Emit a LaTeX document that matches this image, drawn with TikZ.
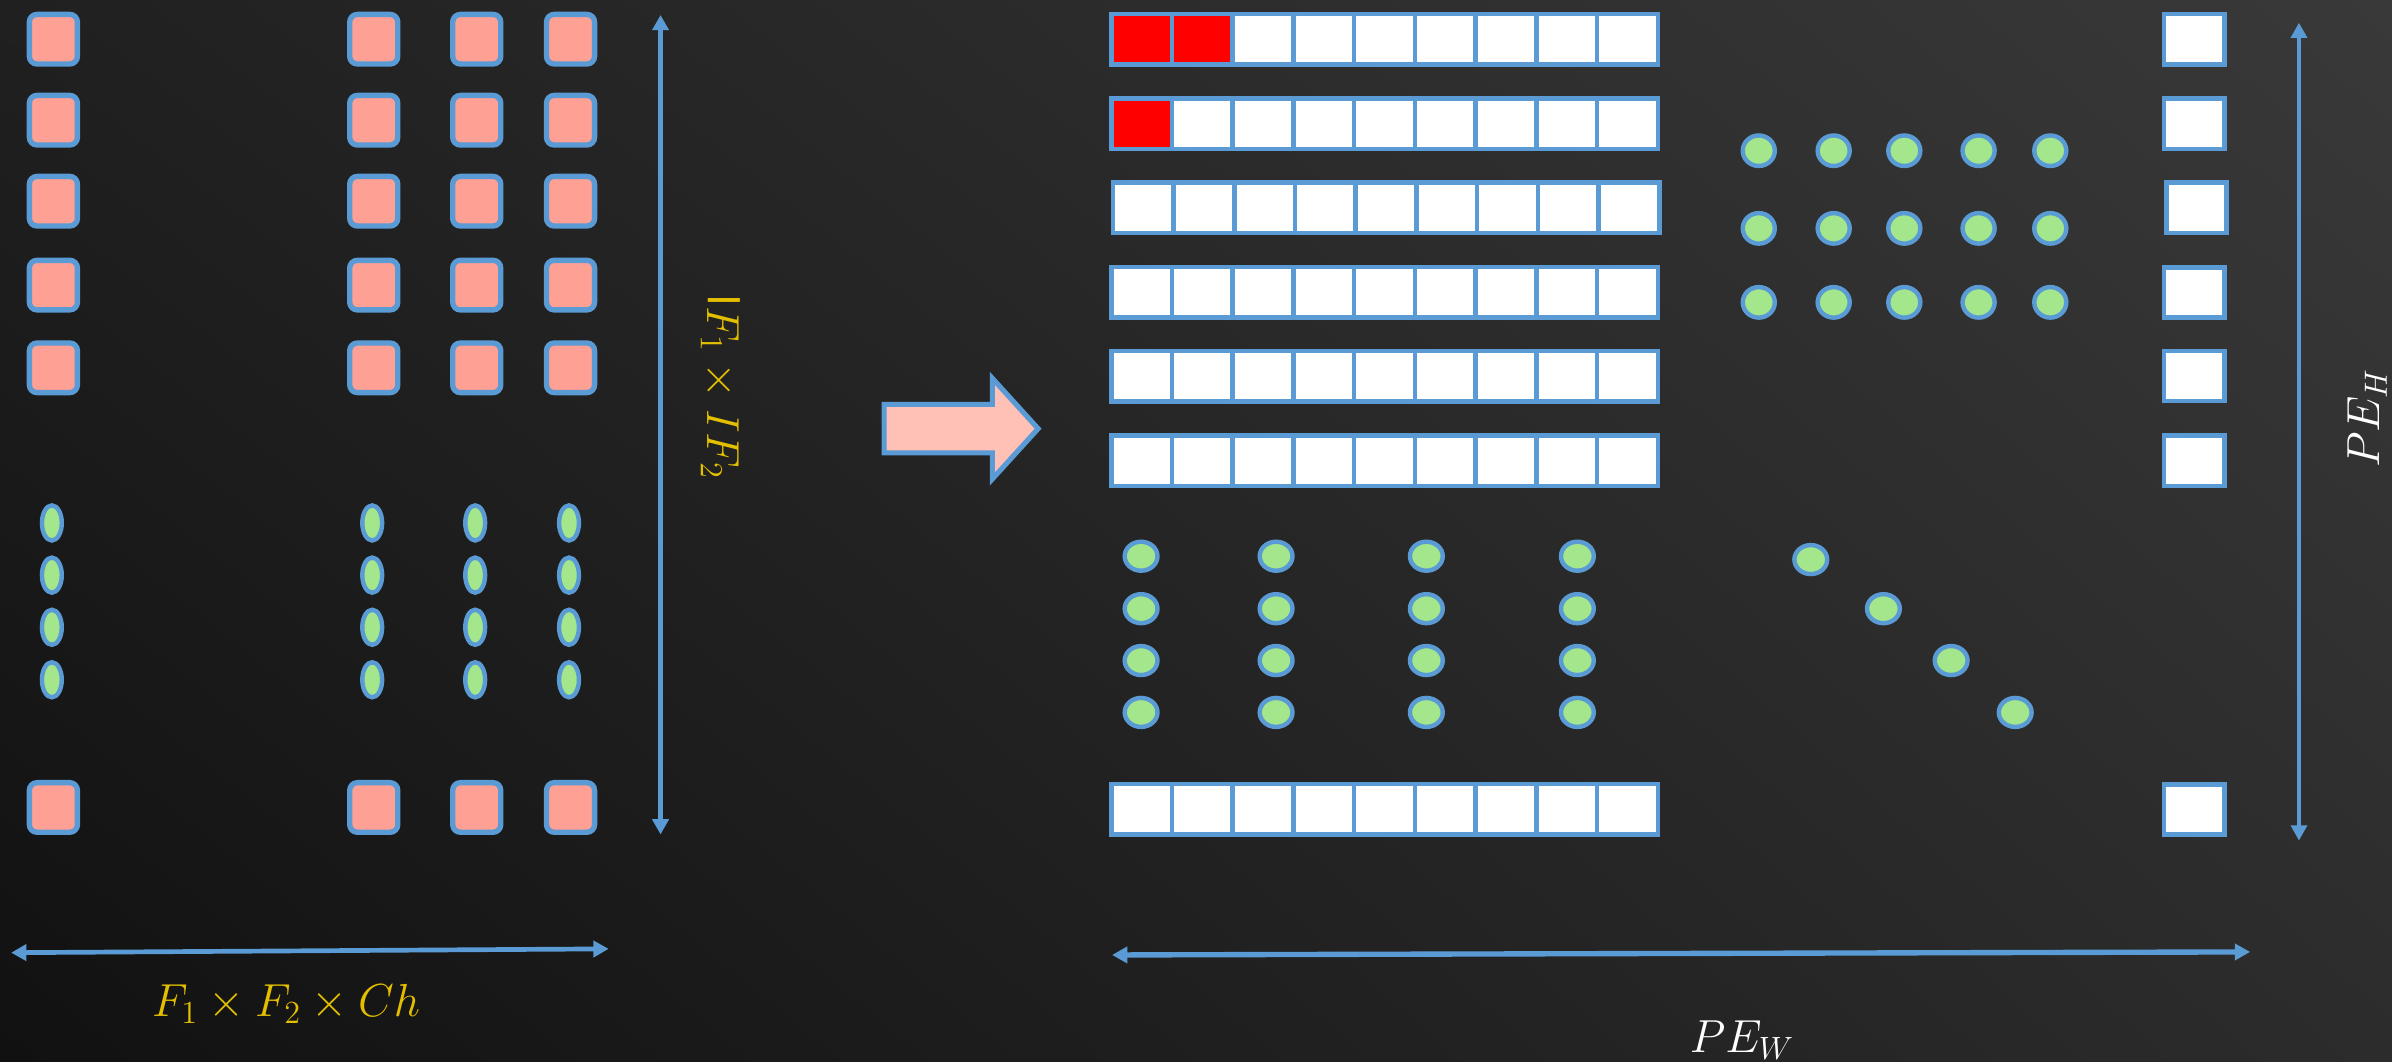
\documentclass[tikz,border=0pt]{standalone}
\usetikzlibrary{arrows.meta,shapes.geometric,shadings}
\definecolor{bl}{HTML}{5B9BD5}
\definecolor{pk}{HTML}{FFA094}
\definecolor{gr}{HTML}{A3E68B}
\definecolor{yl}{HTML}{E3BF00}
\definecolor{pkarrow}{HTML}{FFC0B6}
\definecolor{bgul}{HTML}{202020}
\definecolor{bgll}{HTML}{111111}
\definecolor{bgur}{HTML}{393939}
\definecolor{bglr}{HTML}{2C2C2C}
\begin{document}
\begin{tikzpicture}[x=0.02cm,y=-0.02cm,
  pinkbox/.style={rectangle,draw=bl,fill=pk,line width=2pt,rounded corners=0.1cm,minimum width=0.63cm,minimum height=0.65cm,inner sep=0pt},
  leftell/.style={ellipse,draw=bl,fill=gr,line width=1.65pt,minimum width=0.26cm,minimum height=0.46cm,inner sep=0pt},
  cellbox/.style={rectangle,draw=bl,line width=1.7pt,minimum width=0.796cm,minimum height=0.662cm,inner sep=0pt},
  sqbox/.style={rectangle,draw=bl,fill=white,line width=1.7pt,minimum width=0.79cm,minimum height=0.66cm,inner sep=0pt},
  dotA/.style={ellipse,draw=bl,fill=gr,line width=1.65pt,minimum width=0.42cm,minimum height=0.40cm,inner sep=0pt},
  dotB/.style={ellipse,draw=bl,fill=gr,line width=1.65pt,minimum width=0.43cm,minimum height=0.38cm,inner sep=0pt},
  dimarrow/.style={draw=bl,{Triangle[length=0.2cm,width=0.21cm]}-{Triangle[length=0.2cm,width=0.21cm]}},
  lab/.style={inner sep=0pt,font=\fontsize{17}{20}\selectfont}
]
\useasboundingbox (0,0) rectangle (1568,696);
\clip (0,0) rectangle (1568,696);
\shade[upper left=bgul,lower left=bgll,upper right=bgur,lower right=bglr] (0,0) rectangle (1568,696);

% left: input matrix
\foreach \x [count=\i] in {35,245,312.5,374}{
  \foreach \y [count=\j] in {25.7,78.8,131.9,186.9,241.1,529.3}{
    \node[pinkbox] (p\i-\j) at (\x,\y) {};
  }
  \foreach \y [count=\j] in {342.8,377,411.2,445.6}{
    \node[leftell] (e\i-\j) at (\x-1,\y) {};
  }
}

% dimension arrows left
\coordinate (vt) at (433,9.8);
\coordinate (vb) at (433,547);
\draw[dimarrow,line width=1.67pt] (vt) -- (vb);
\coordinate (hl) at (7.3,624.5);
\coordinate (hr) at (399,622);
\draw[dimarrow,line width=1.75pt] (hl) -- (hr);
\node[lab,text=yl,anchor=base] (lblF) at (187.5,666.5) {$F_1\times F_2\times Ch$};
\node[lab,text=yl,anchor=base,rotate=-90] (lblIF) at (464,253.5) {$\mathsf{I}F_1\times IF_2$};

% big arrow
\draw[draw=bl,fill=pkarrow,line width=1.9pt,line join=miter]
  (579.6,265.1) -- (650.5,265.1) -- (650.5,248) -- (680.5,281) -- (650.5,314) -- (650.5,296.9) -- (579.6,296.9) -- cycle;

% right: strips of cells and single squares
\foreach \y/\dx [count=\r] in {25.65/0,81.2/0,136.3/1,191.7/0,246.5/0,302/0,530.6/0}{
  \foreach \c in {1,...,9}{
    \pgfmathtruncatemacro\isred{((\r==1)&&(\c<3))||((\r==2)&&(\c==1)) ? 1 : 0}
    \ifnum\isred=1
      \node[cellbox,fill=red] (c\r-\c) at ({728.5+\dx+39.8*(\c-0.5)},\y) {};
    \else
      \node[cellbox,fill=white] (c\r-\c) at ({728.5+\dx+39.8*(\c-0.5)},\y) {};
    \fi
  }
  \node[sqbox] (s\r) at ({1438.3+1.5*\dx},\y) {};
}

% green dot grid top right
\foreach \x [count=\i] in {1152.9,1202,1248.3,1297,1344}{
  \foreach \y [count=\j] in {98.8,149.7,198.2}{
    \node[dotA] (g\i-\j) at (\x,\y) {};
  }
}
% green dots lower left
\foreach \x [count=\i] in {748,836.5,935,1034}{
  \foreach \y [count=\j] in {364.6,399,433,467}{
    \node[dotB] (h\i-\j) at (\x,\y) {};
  }
}
% diagonal dots
\foreach \x/\y [count=\i] in {1187/366.8,1234.6/399,1279/433,1321/467}{
  \node[dotB] (d\i) at (\x,\y) {};
}

% dimension arrows right
\coordinate (rvt) at (1507,14.9);
\coordinate (rvb) at (1507,551);
\draw[dimarrow,line width=1.3pt] (rvt) -- (rvb);
\coordinate (rhl) at (729,626);
\coordinate (rhr) at (1475,624);
\draw[dimarrow,line width=2pt] (rhl) -- (rhr);
\node[lab,text=white,anchor=base,rotate=90] (lblH) at (1560,274) {$PE_H$};
\node[lab,text=white,anchor=base] (lblW) at (1142,690) {$PE_W$};
\end{tikzpicture}
\end{document}
